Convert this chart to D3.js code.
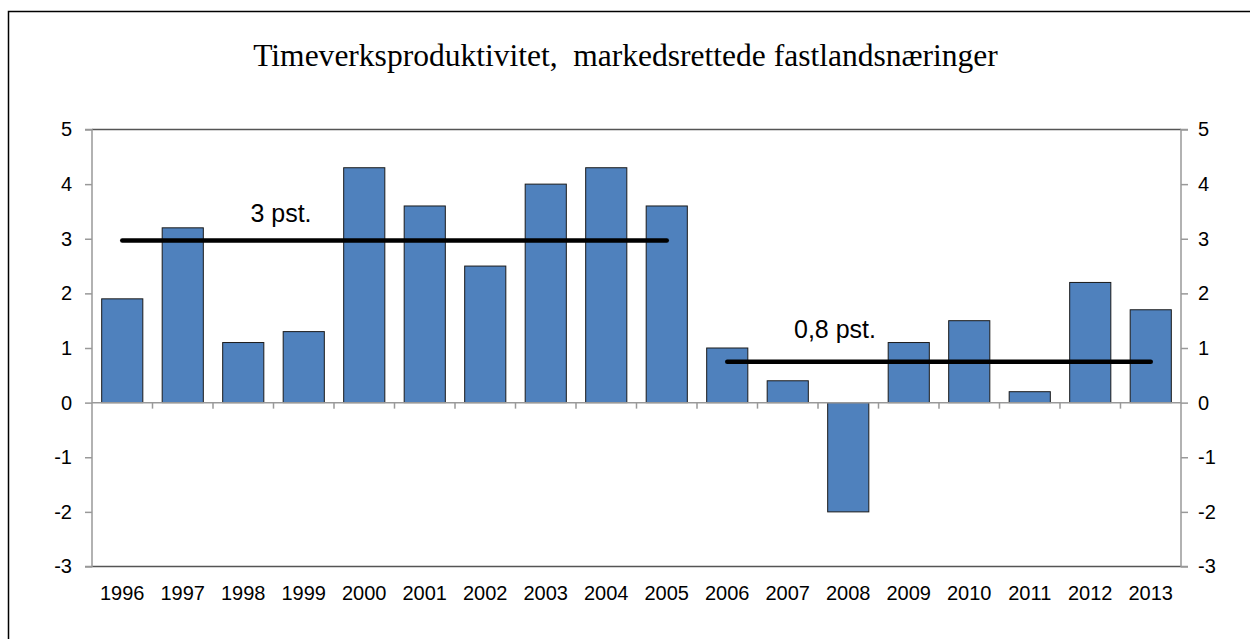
<!DOCTYPE html>
<html>
<head>
<meta charset="utf-8">
<script src="https://cdn.jsdelivr.net/npm/d3@7"></script>
<style>
  body { margin: 0; background: #fff; }
  svg { display: block; }
  .tick text { font-family: "Liberation Sans", Arial, sans-serif; font-size: 20px; fill: #000; }
</style>
</head>
<body>
<svg></svg>
<script>
const years  = ["1996","1997","1998","1999","2000","2001","2002","2003","2004","2005","2006","2007","2008","2009","2010","2011","2012","2013"];
const growth = [1.9, 3.2, 1.1, 1.3, 4.3, 3.6, 2.5, 4.0, 4.3, 3.6, 1.0, 0.4, -2.0, 1.1, 1.5, 0.2, 2.2, 1.7];
const yTicks = [5, 4, 3, 2, 1, 0, -1, -2, -3];

// period averages: [first year, last year, level, label]
const averages = [
  {from: "1996", to: "2005", value: 2.97, label: "3 pst."},
  {from: "2006", to: "2013", value: 0.75, label: "0,8 pst."}
];

const width  = 1250,
      height = 639,
      margin = {top: 129.5, bottom: 72.5, left: 92, right: 69},
      svg = d3.select("svg").attr("width", width).attr("height", height);

const x = d3.scaleBand()
  .domain(years)
  .range([margin.left, width - margin.right])
  .paddingInner(0.32)
  .paddingOuter(0.16);

const y = d3.scaleLinear()
  .domain([-3, 5])
  .range([height - margin.bottom, margin.top]);

// outer frame (top + left edges visible)
svg.append("path")
  .attr("d", `M 8.5 ${height} L 8.5 11.5 L ${width} 11.5`)
  .attr("fill", "none")
  .attr("stroke", "#000")
  .attr("stroke-width", 1.5);

// title
const title = svg.append("text")
  .attr("x", 625.5)
  .attr("y", 66)
  .attr("text-anchor", "middle")
  .style("white-space", "pre")
  .style("font-family", "'Liberation Serif', 'Times New Roman', serif")
  .style("font-size", "29px")
  .text("Timeverksproduktivitet,  markedsrettede fastlandsnæringer");
const tw = title.node().getComputedTextLength();
title.style("font-size", (29 * 745 / tw) + "px");

// bars
svg.append("g")
  .selectAll("rect")
  .data(growth)
  .join("rect")
  .attr("x", (d, i) => x(years[i]))
  .attr("width", x.bandwidth())
  .attr("y", d => y(Math.max(0, d)))
  .attr("height", d => Math.abs(y(d) - y(0)))
  .attr("fill", "#4f81bd")
  .attr("stroke", "#1a1a1a")
  .attr("stroke-width", 1);

// plot frame top and bottom
svg.append("line")
  .attr("x1", margin.left).attr("x2", width - margin.right)
  .attr("y1", y(5)).attr("y2", y(5))
  .attr("stroke", "#555").attr("stroke-width", 1.5);
svg.append("line")
  .attr("x1", margin.left).attr("x2", width - margin.right)
  .attr("y1", y(-3)).attr("y2", y(-3))
  .attr("stroke", "#555").attr("stroke-width", 1.5);

// y axes (plain hyphen for negatives, as in the original)
const fmt = d => String(d);
const yLeft = d3.axisLeft(y).tickValues(yTicks).tickSize(7).tickPadding(13).tickFormat(fmt);
const yRight = d3.axisRight(y).tickValues(yTicks).tickSize(7).tickPadding(10).tickFormat(fmt);

svg.append("g")
  .attr("transform", `translate(${margin.left},0)`)
  .call(yLeft)
  .call(g => g.selectAll("line, path").attr("stroke", "#999").attr("stroke-width", 1.5))
  .call(g => g.select(".domain").attr("d", `M-7,${y(5)}H0V${y(-3)}H-7`));

svg.append("g")
  .attr("transform", `translate(${width - margin.right},0)`)
  .call(yRight)
  .call(g => g.selectAll("line, path").attr("stroke", "#999").attr("stroke-width", 1.5))
  .call(g => g.select(".domain").attr("d", `M7,${y(5)}H0V${y(-3)}H7`));

// zero line with category separator ticks
const sep = d3.range(1, years.length).map(i => margin.left + i * x.step());
const zero = svg.append("g");
zero.append("line")
  .attr("x1", margin.left).attr("x2", width - margin.right)
  .attr("y1", y(0)).attr("y2", y(0))
  .attr("stroke", "#999").attr("stroke-width", 1.5);
zero.selectAll(".sep")
  .data(sep)
  .join("line")
  .attr("class", "sep")
  .attr("x1", d => d).attr("x2", d => d)
  .attr("y1", y(0)).attr("y2", y(0) + 6)
  .attr("stroke", "#999").attr("stroke-width", 1.5);

// year labels
svg.append("g")
  .attr("transform", `translate(0,${y(-3)})`)
  .call(d3.axisBottom(x).tickSize(0).tickPadding(19))
  .call(g => g.select(".domain").remove());

// average lines
const avg = svg.append("g");
avg.selectAll("line")
  .data(averages)
  .join("line")
  .attr("x1", d => x(d.from) + x.bandwidth() / 2)
  .attr("x2", d => x(d.to) + x.bandwidth() / 2)
  .attr("y1", d => y(d.value))
  .attr("y2", d => y(d.value))
  .attr("stroke", "#000")
  .attr("stroke-width", 4.5)
  .attr("stroke-linecap", "round");

avg.selectAll("text")
  .data(averages)
  .join("text")
  .attr("x", (d, i) => i === 0 ? 281 : 835)
  .attr("y", (d, i) => y(d.value) - (i === 0 ? 18 : 24))
  .attr("text-anchor", "middle")
  .style("font-family", "'Liberation Sans', Arial, sans-serif")
  .style("font-size", "25px")
  .text(d => d.label);
</script>
</body>
</html>
